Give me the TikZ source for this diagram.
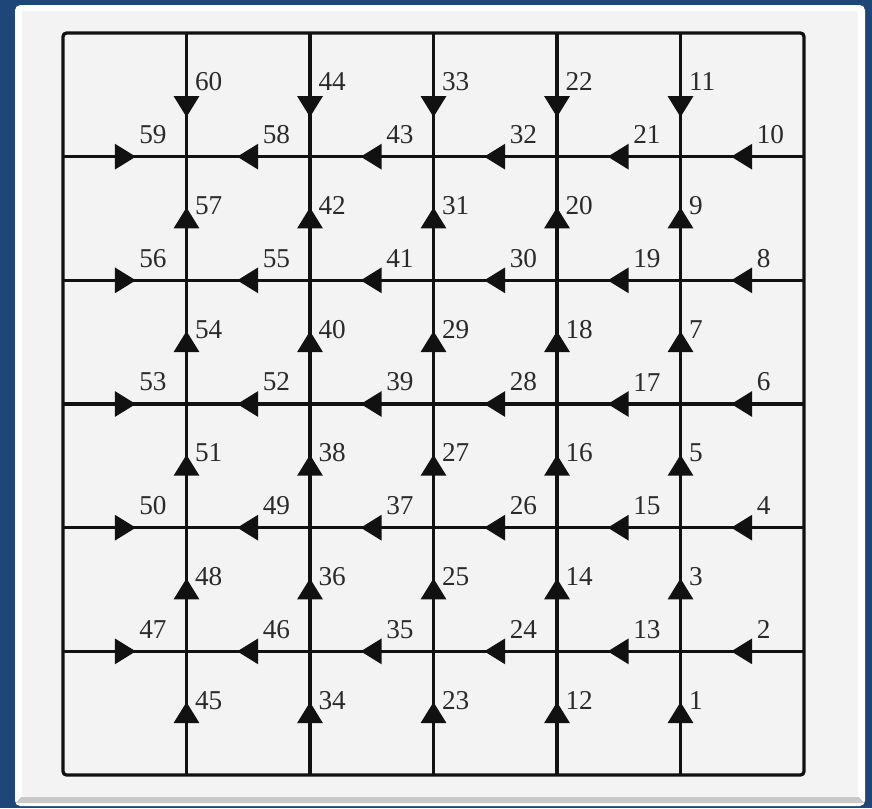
\documentclass[tikz,border=0pt]{standalone}
\usepackage{fontspec}
\setmainfont{Liberation Serif}
\usepackage{tikz}
\usetikzlibrary{arrows.meta, decorations.markings, calc}
\usepackage{xcolor}
\definecolor{frameblue}{HTML}{1E4679}
\definecolor{panelgray}{HTML}{F3F3F3}
\definecolor{bevelgray}{HTML}{C8C8C8}
\definecolor{inkblack}{HTML}{111111}
\definecolor{textgray}{HTML}{2A2A2A}
\tikzset{
  gridline/.style={draw=inkblack, line width=0.065cm},
  flow/.style={
    postaction={decorate},
    decoration={markings,
      mark=at position #1 with {\arrow{Triangle[width=0.5cm,length=0.42cm]}}}
  },
  vlbl/.style={
    anchor=west, inner sep=0pt, xshift=0.14cm, yshift=0.26cm,
    font=\fontsize{15.5}{18}\selectfont, text=textgray
  },
  hlbl/.style={
    anchor=west, inner sep=0pt, xshift=0.26cm, yshift=0.44cm,
    font=\fontsize{15.5}{18}\selectfont, text=textgray
  }
}

\begin{document}
\begin{tikzpicture}[x=0.02cm, y=-0.02cm]
    % Frame and panel
    \fill[frameblue] (0,0) rectangle (872,808);
    \useasboundingbox (0,0) rectangle (872,808);
    \fill[white, rounded corners=3pt] (15,5) rectangle (865,806);
    \fill[bevelgray] (21,797) -- (859,797) -- (864,803) -- (16,803) -- cycle;
    \fill[panelgray] (22,11) rectangle (858,797);

    % Grid points
    \foreach \i in {0,...,6}
      \foreach \j in {0,...,6}
        \coordinate (g-\i-\j) at ({63+123.5*\i},{33+123.67*\j});

    \draw[gridline, rounded corners=2pt] (g-0-0) rectangle (g-6-6);

    % Vertical lines (bottom to top)
    \foreach \i/\labs in {1/{45,48,51,54,57,60}, 2/{34,36,38,40,42,44},
                          3/{23,25,27,29,31,33}, 4/{12,14,16,18,20,22},
                          5/{1,3,5,7,9,11}}{
      \foreach \n [count=\k] in \labs {
        \pgfmathtruncatemacro\lo{7-\k}
        \pgfmathtruncatemacro\hi{6-\k}
        \ifnum\k<6
          \draw[gridline, flow=0.59] (g-\i-\lo) -- node[vlbl] (n\n) {\n} (g-\i-\hi);
        \else
          \draw[gridline, flow=0.68] (g-\i-\hi) -- node[vlbl] (n\n) {\n} (g-\i-\lo);
        \fi
      }
    }

    % Horizontal lines (bottom to top)
    \foreach \i/\labs in {0/{47,50,53,56,59}, 1/{46,49,52,55,58},
                          2/{35,37,39,41,43}, 3/{24,26,28,30,32},
                          4/{13,15,17,19,21}, 5/{2,4,6,8,10}}{
      \foreach \n [count=\k] in \labs {
        \pgfmathtruncatemacro\row{6-\k}
        \pgfmathtruncatemacro\nx{\i+1}
        \ifnum\i=0
          \draw[gridline, flow=0.59] (g-\i-\row) -- node[hlbl] (n\n) {\n} (g-\nx-\row);
        \else
          \draw[gridline, flow=0.59] (g-\nx-\row) -- node[hlbl] (n\n) {\n} (g-\i-\row);
        \fi
      }
    }
\end{tikzpicture}
\end{document}
